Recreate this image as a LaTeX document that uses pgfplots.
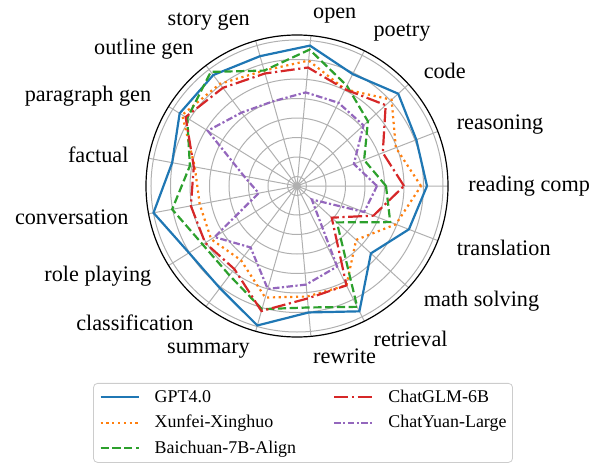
\documentclass[border=0pt]{standalone}
\usepackage{pgfplots}
\pgfplotsset{compat=1.18}
\usepgfplotslibrary{polar}
\usepackage{fontspec}
\setmainfont{Liberation Serif}
\definecolor{cblue}{HTML}{1F77B4}
\definecolor{corange}{HTML}{FF7F0E}
\definecolor{cgreen}{HTML}{2CA02C}
\definecolor{cred}{HTML}{D62728}
\definecolor{cpurple}{HTML}{9467BD}
\tikzset{
  sgpt/.style={cblue, solid},
  sxun/.style={corange, dash pattern=on 1.1bp off 1.8bp},
  sbai/.style={cgreen, dash pattern=on 4.1bp off 1.8bp},
  sglm/.style={cred, dash pattern=on 7bp off 1.8bp on 1.1bp off 1.8bp},
  syua/.style={cpurple, dash pattern=on 3.3bp off 1.2bp on 1.1bp off 1.2bp},
}
\begin{document}
\begin{tikzpicture}[font=\fontsize{11.15}{13.4}\selectfont]
\begin{polaraxis}[
  scale only axis, width=151bp, height=151bp,
  xmin=0, xmax=360, ymin=0, ymax=151,
  xtick={0,21.18,42.35,63.53,84.71,105.88,127.06,148.24,169.41,190.59,211.76,232.94,254.12,275.29,296.47,317.65,338.82},
  xticklabels={},
  ytick={9.5,29,48.5,68,87.5,107,126.5,146},
  yticklabels={},
  grid=major,
  major grid style={draw=black!31, line width=0.5bp},
  major tick length=0pt,
  x axis line style={black, line width=0.6bp},
  y axis line style={draw=none},
  clip=false,
  legend columns=2,
  legend cell align=left,
  legend style={at={(0.52,-0.1523)}, anchor=north, draw=black!20, rounded corners=2bp, fill=white,
    font=\fontsize{9}{10.8}\selectfont, inner xsep=3bp, inner ysep=2.5bp,
    nodes={inner sep=0pt, text height=7bp, text depth=2bp}, row sep=3.75bp,
    /tikz/every odd column/.append style={column sep=7.5bp},
    /tikz/every even column/.append style={column sep=18.5bp}},
  legend image code/.code={\draw[#1] (0bp,0bp) -- (19bp,0bp);},
  every axis plot/.append style={line width=1.1bp},
]
% GPT4.0
\addplot[sgpt, forget plot] coordinates {(0,130) (21.18,128) (42.35,137) (63.53,125) (84.71,141) (105.88,135) (127.06,139) (148.24,138) (169.41,127) (190.59,146) (211.76,127) (232.94,128) (254.12,145) (275.29,127) (296.47,140) (317.65,100) (338.82,120) (360,130)};
% Xunfei-Xinghuo
\addplot[sxun, forget plot] coordinates {(0,124) (21.18,106) (42.35,128) (63.53,108) (84.71,126) (105.88,120) (127.06,128) (148.24,135) (169.41,104) (190.59,99) (211.76,101) (232.94,93) (254.12,116) (275.29,111) (296.47,111) (317.65,80) (338.82,106) (360,124)};
% Baichuan-7B-Align
\addplot[sbai, forget plot] coordinates {(0,89) (21.18,72) (42.35,96) (63.53,112) (84.71,137) (105.88,120) (127.06,143) (148.24,129) (169.41,109) (190.59,127) (211.76,111) (232.94,112) (254.12,128) (275.29,122) (296.47,135) (317.65,54) (338.82,100) (360,89)};
% ChatGLM-6B
\addplot[sglm, forget plot] coordinates {(0,107) (21.18,92) (42.35,120) (63.53,108) (84.71,119) (105.88,117) (127.06,123) (148.24,131) (169.41,105) (190.59,108) (211.76,108) (232.94,104) (254.12,130) (275.29,113) (296.47,111) (317.65,47) (338.82,82) (360,107)};
% ChatYuan-Large
\addplot[syua, forget plot] coordinates {(0,80) (21.18,61) (42.35,90) (63.53,93) (84.71,94) (105.88,88) (127.06,92) (148.24,105) (169.41,54) (190.59,39) (211.76,97) (232.94,77) (254.12,107) (275.29,99) (296.47,90) (317.65,20) (338.82,72) (360,80)};

\addlegendimage{sgpt, line width=1.1bp}\addlegendentry{GPT4.0}
\addlegendimage{sglm, line width=1.1bp}\addlegendentry{ChatGLM-6B}
\addlegendimage{sxun, line width=1.1bp}\addlegendentry{Xunfei-Xinghuo}
\addlegendimage{syua, line width=1.1bp}\addlegendentry{ChatYuan-Large}
\addlegendimage{sbai, line width=1.1bp}\addlegendentry{Baichuan-7B-Align}

\coordinate (c) at (axis cs:0,0);
\node[anchor=west, inner sep=0pt] at (axis cs:0,171) {reading comp};
\node[anchor=west, inner sep=0pt] at (axis cs:21.18,171) {reasoning};
\node[anchor=west, inner sep=0pt] at (axis cs:42.35,171) {code};
\node[anchor=west, inner sep=0pt] at (axis cs:63.53,171) {poetry};
\node[anchor=west, inner sep=0pt] at (axis cs:84.71,171) {open};
\node[anchor=east, inner sep=0pt] at (axis cs:105.88,171) {story gen};
\node[anchor=east, inner sep=0pt] at (axis cs:127.06,171) {outline gen};
\node[anchor=east, inner sep=0pt] at (axis cs:148.24,171) {paragraph gen};
\node[anchor=east, inner sep=0pt] at (axis cs:169.41,171) {factual};
\node[anchor=east, inner sep=0pt] at (axis cs:190.59,171) {conversation};
\node[anchor=east, inner sep=0pt] at (axis cs:211.76,171) {role playing};
\node[anchor=east, inner sep=0pt] at (axis cs:232.94,171) {classification};
\node[anchor=east, inner sep=0pt] at (axis cs:254.12,171) {summary};
\node[anchor=west, inner sep=0pt] at (axis cs:275.29,171) {rewrite};
\node[anchor=west, inner sep=0pt] at (axis cs:296.47,171) {retrieval};
\node[anchor=west, inner sep=0pt] at (axis cs:317.65,171) {math solving};
\node[anchor=west, inner sep=0pt] at (axis cs:338.82,171) {translation};
\end{polaraxis}
\pgfresetboundingbox
\path[use as bounding box] (c) ++(-148.5bp,-139bp) rectangle ++(298.5bp,232bp);
\end{tikzpicture}
\end{document}
